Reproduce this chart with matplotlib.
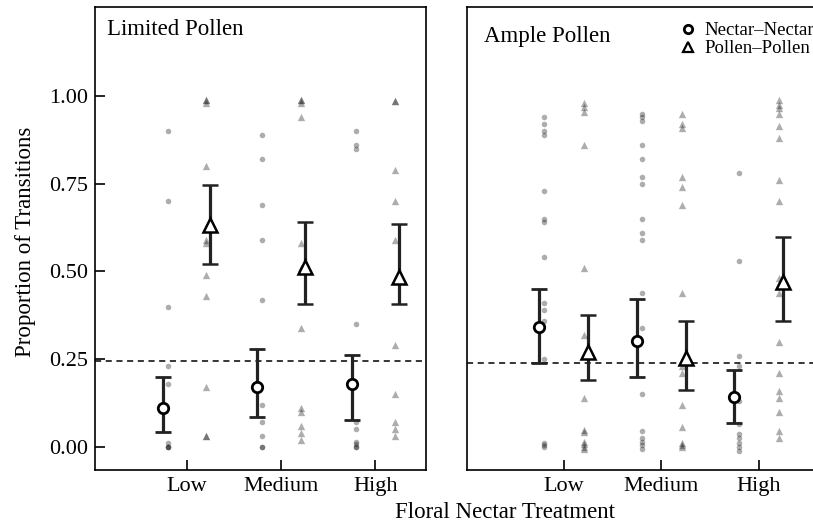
import matplotlib
matplotlib.use("Agg")
import matplotlib.pyplot as plt
from matplotlib.lines import Line2D
import numpy as np

plt.rcParams["font.family"] = ["Liberation Serif", "DejaVu Serif"]

levels = ["Low", "Medium", "High"]

# raw proportions, one list per nectar level
limited_nn = [
    [0.90, 0.70, 0.40, 0.23, 0.18, 0.01, 0.0, 0.0, 0.0],
    [0.89, 0.82, 0.69, 0.59, 0.42, 0.12, 0.07, 0.03, 0.0, 0.0],
    [0.90, 0.86, 0.85, 0.35, 0.07, 0.05, 0.013, 0.008, 0.0, 0.0],
]
limited_pp = [
    [0.99, 0.99, 0.98, 0.80, 0.59, 0.58, 0.49, 0.43, 0.17, 0.03, 0.03],
    [0.99, 0.99, 0.98, 0.94, 0.58, 0.51, 0.34, 0.11, 0.10, 0.06, 0.04, 0.02],
    [0.985, 0.985, 0.79, 0.70, 0.59, 0.29, 0.15, 0.07, 0.05, 0.03],
]
ample_nn = [
    [0.94, 0.92, 0.90, 0.89, 0.73, 0.65, 0.64, 0.54, 0.41, 0.39, 0.36, 0.25,
     0.012, 0.006, 0.0],
    [0.95, 0.94, 0.93, 0.86, 0.82, 0.77, 0.75, 0.65, 0.61, 0.59, 0.44, 0.34,
     0.15, 0.044, 0.025, 0.015, 0.006, -0.006],
    [0.78, 0.53, 0.26, 0.23, 0.13, 0.066, 0.037, 0.025, 0.011, 0.0, -0.011],
]
ample_pp = [
    [0.98, 0.97, 0.955, 0.86, 0.51, 0.32, 0.14, 0.048, 0.041, 0.015, 0.009,
     0.0, -0.006],
    [0.95, 0.92, 0.91, 0.77, 0.74, 0.69, 0.44, 0.23, 0.21, 0.12, 0.056,
     0.012, 0.006, 0.0],
    [0.99, 0.975, 0.965, 0.95, 0.915, 0.88, 0.76, 0.70, 0.48, 0.44, 0.30,
     0.21, 0.16, 0.14, 0.10, 0.044, 0.025],
]

# model estimates with 95% intervals
limited_nn_mean = [0.112, 0.171, 0.179]
limited_nn_lo = [0.041, 0.085, 0.076]
limited_nn_hi = [0.200, 0.278, 0.263]
limited_pp_mean = [0.632, 0.514, 0.485]
limited_pp_lo = [0.520, 0.406, 0.406]
limited_pp_hi = [0.746, 0.642, 0.635]

ample_nn_mean = [0.341, 0.303, 0.141]
ample_nn_lo = [0.238, 0.200, 0.069]
ample_nn_hi = [0.450, 0.422, 0.219]
ample_pp_mean = [0.269, 0.254, 0.471]
ample_pp_lo = [0.190, 0.162, 0.360]
ample_pp_hi = [0.376, 0.360, 0.597]

# null expectation
limited_ref = 0.245
ample_ref = 0.240


def draw_panel(ax, nn, pp, nn_mean, nn_lo, nn_hi, pp_mean, pp_lo, pp_hi, ref):
    x = np.arange(1, len(levels) + 1)
    for i in range(len(levels)):
        ax.scatter(np.full(len(nn[i]), x[i] - 0.2), nn[i], s=16, marker="o",
                   color="k", alpha=0.32, linewidths=0, zorder=2)
        ax.scatter(np.full(len(pp[i]), x[i] + 0.21), pp[i], s=28, marker="^",
                   color="k", alpha=0.32, linewidths=0, zorder=2)

    ax.axhline(ref, color="k", linestyle=(0, (4, 3)), linewidth=1.1, zorder=1)

    nn_mean = np.array(nn_mean)
    pp_mean = np.array(pp_mean)
    ax.errorbar(x - 0.25, nn_mean,
                yerr=[nn_mean - np.array(nn_lo), np.array(nn_hi) - nn_mean],
                fmt="o", ms=7.5, mfc="white", mec="k", mew=2, ecolor="#222222",
                elinewidth=2.3, capsize=6, capthick=2.3, zorder=3)
    ax.errorbar(x + 0.25, pp_mean,
                yerr=[pp_mean - np.array(pp_lo), np.array(pp_hi) - pp_mean],
                fmt="^", ms=9.5, mfc="white", mec="k", mew=1.8, ecolor="#222222",
                elinewidth=2.3, capsize=6, capthick=2.3, zorder=3)

    ax.set_xticks(x)
    ax.set_xticklabels(levels)
    ax.set_ylim(-0.066, 1.254)
    ax.tick_params(direction="in", length=7, width=1.2, labelsize=16,
                   colors="k", pad=5)
    for sp in ax.spines.values():
        sp.set_linewidth(1.2)


fig = plt.figure(figsize=(8.13, 5.25), dpi=100)
W, H = 813, 525
ax1 = fig.add_axes([95 / W, 55 / H, 331 / W, 463 / H])
ax2 = fig.add_axes([467 / W, 55 / H, 360 / W, 463 / H])

draw_panel(ax1, limited_nn, limited_pp, limited_nn_mean, limited_nn_lo,
           limited_nn_hi, limited_pp_mean, limited_pp_lo, limited_pp_hi,
           limited_ref)
draw_panel(ax2, ample_nn, ample_pp, ample_nn_mean, ample_nn_lo,
           ample_nn_hi, ample_pp_mean, ample_pp_lo, ample_pp_hi, ample_ref)

ax1.set_xlim(0.028, 3.538)
ax1.set_yticks([0, 0.25, 0.5, 0.75, 1.0])
ax1.set_yticklabels(["0.00", "0.25", "0.50", "0.75", "1.00"])
ax2.set_xlim(0.008, 3.70)
ax2.set_yticks([])

ax1.text(0.036, 0.975, "Limited Pollen", transform=ax1.transAxes,
         ha="left", va="top", fontsize=16.5)
ax2.text(0.046, 0.958, "Ample Pollen", transform=ax2.transAxes,
         ha="left", va="top", fontsize=16.5)

handles = [
    Line2D([], [], marker="o", linestyle="none", ms=6, mfc="white", mec="k",
           mew=2, label="Nectar\u2013Nectar"),
    Line2D([], [], marker="^", linestyle="none", ms=7, mfc="white", mec="k",
           mew=1.6, label="Pollen\u2013Pollen"),
]
fig.legend(handles=handles, loc="upper left",
           bbox_to_anchor=(680 / W, 1 - 22 / H), frameon=False, fontsize=13.5,
           handlelength=0.8, handletextpad=0.5, borderpad=0, borderaxespad=0,
           labelspacing=0.05)

fig.text(26 / W, 1 - 242 / H, "Proportion of Transitions", rotation=90,
         ha="center", va="center", fontsize=16.5)
fig.text(505 / W, 1 - 513 / H, "Floral Nectar Treatment", ha="center",
         va="center", fontsize=16.5)

fig.savefig("out.png", dpi=100)
